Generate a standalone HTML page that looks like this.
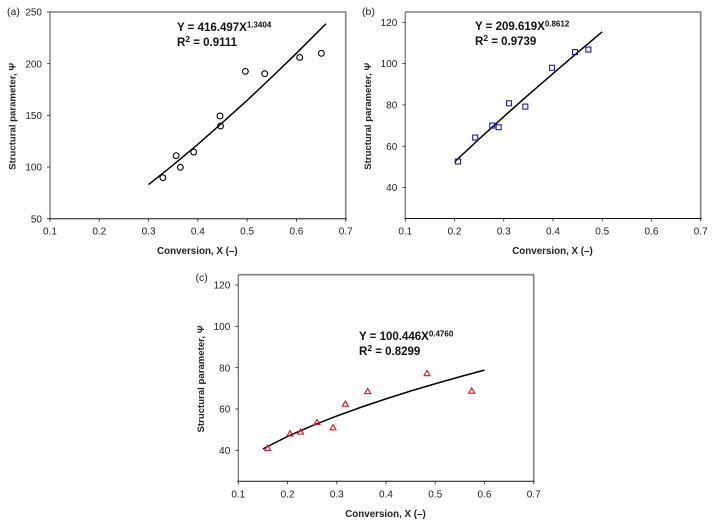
<!DOCTYPE html>
<html>
<head>
<meta charset="utf-8">
<style>
html,body{margin:0;padding:0;background:#fff;width:713px;height:527px;overflow:hidden}
svg{display:block;font-family:"Liberation Sans",Arial,sans-serif}
</style>
</head>
<body>
<svg id="figure" width="713" height="527" viewBox="0 0 713 527" xmlns="http://www.w3.org/2000/svg"></svg>
<script>
const xTickLabels = [0.1, 0.2, 0.3, 0.4, 0.5, 0.6, 0.7];

const yTicksA = [50, 100, 150, 200, 250];
const pointsXA = [0.329, 0.356, 0.3645, 0.3915, 0.445, 0.446, 0.4964, 0.5356, 0.6066, 0.6506];
const pointsYA = [89.7, 111, 99.7, 114.5, 149.4, 139.7, 192.6, 190.3, 206, 210];
const fitXA = [0.3, 0.35, 0.4, 0.45, 0.5, 0.55, 0.6, 0.66];
const fitYA = [83, 102, 122, 143, 164.5, 187, 210, 238.6];

const yTicksB = [40, 60, 80, 100, 120];
const pointsXB = [0.207, 0.242, 0.2767, 0.2896, 0.3106, 0.3438, 0.398, 0.4447, 0.4718];
const pointsYB = [52.6, 64.2, 70, 69.2, 80.8, 79.2, 98, 105.6, 106.8];
const fitXB = [0.2, 0.25, 0.3, 0.35, 0.4, 0.45, 0.5];
const fitYB = [52.4, 63.5, 74.3, 84.9, 95.2, 105.4, 115.4];

const yTicksC = [40, 60, 80, 100, 120];
const pointsXC = [0.1596, 0.205, 0.2266, 0.2598, 0.2923, 0.3174, 0.3628, 0.4833, 0.574];
const pointsYC = [41, 48, 48.9, 53.5, 51, 62.4, 68.5, 77.2, 68.7];
const fitXC = [0.15, 0.2, 0.25, 0.3, 0.35, 0.4, 0.45, 0.5, 0.55, 0.6];
const fitYC = [40.7, 46.7, 51.9, 56.6, 60.9, 64.9, 68.7, 72.2, 75.6, 78.8];

const SVG_NS = 'http://www.w3.org/2000/svg';
const root = document.getElementById('figure');

function mk(parent, tag, attrs, name, text) {
  const el = document.createElementNS(SVG_NS, tag);
  for (const k in attrs) el.setAttribute(k, attrs[k]);
  
  
  if (text !== undefined) el.textContent = text;
  parent.appendChild(el);
  return el;
}

function drawPanel(cfg) {
  const g = mk(root, 'g', {}, 'panel-' + cfg.id);
  const L = cfg.left, R = cfg.right, T = cfg.top, B = cfg.bottom;
  const sx = v => L + (v - 0.1) / 0.6 * (R - L);
  const sy = v => B - (v - cfg.yMin) / (cfg.yMax - cfg.yMin) * (B - T);

  mk(g, 'text', {x: cfg.tagX, y: cfg.tagY, 'font-size': 10.5, fill: '#222'}, 'panel-label-' + cfg.id, '(' + cfg.id + ')');

  mk(g, 'path', {d: `M${L} ${T}H${R}V${B}`, fill: 'none', stroke: '#808080', 'stroke-width': 1.6}, 'plot-frame-grey');
  mk(g, 'line', {x1: L, y1: T, x2: L, y2: B, stroke: '#777', 'stroke-width': 1.3}, 'y-axis-line');
  mk(g, 'line', {x1: L - 1, y1: B, x2: R + 1, y2: B, stroke: '#111', 'stroke-width': 1}, 'x-axis-line');

  xTickLabels.forEach(v => {
    mk(g, 'line', {x1: sx(v), y1: B, x2: sx(v), y2: B + 3, stroke: '#222', 'stroke-width': 0.8}, 'x-tick');
    mk(g, 'text', {x: sx(v), y: B + 16, 'font-size': 10, fill: '#222', 'text-anchor': 'middle'}, 'x-tick-label', v.toFixed(1));
  });
  cfg.yTicks.forEach(v => {
    mk(g, 'line', {x1: L - 3, y1: sy(v), x2: L, y2: sy(v), stroke: '#222', 'stroke-width': 0.8}, 'y-tick');
    mk(g, 'text', {x: L - 8, y: sy(v) + 3.6, 'font-size': 10, fill: '#222', 'text-anchor': 'end'}, 'y-tick-label', String(v));
  });

  mk(g, 'text', {x: (L + R) / 2 - 0.5, y: B + 35.5, 'font-size': 9.8, 'font-weight': 'bold', fill: '#222', 'text-anchor': 'middle'}, 'x-axis-title', 'Conversion, X (\u2013)');
  mk(g, 'text', {transform: `translate(${L - 34.5} ${(T + B) / 2 + 1}) rotate(-90)`, 'font-size': 9.6, 'font-weight': 'bold', fill: '#222', 'text-anchor': 'middle'}, 'y-axis-title', 'Structural parameter, \u03A8');

  const fit = cfg.fitX.map((x, i) => sx(x).toFixed(2) + ',' + sy(cfg.fitY[i]).toFixed(2)).join(' ');
  mk(g, 'polyline', {points: fit, fill: 'none', stroke: '#000', 'stroke-width': 1.5}, 'power-fit-line');

  cfg.pointsX.forEach((x, i) => {
    const px = sx(x), py = sy(cfg.pointsY[i]);
    if (cfg.marker === 'circle') {
      mk(g, 'circle', {cx: px, cy: py, r: 2.9, fill: 'none', stroke: '#000', 'stroke-width': 1.1}, 'data-point');
    } else if (cfg.marker === 'square') {
      mk(g, 'rect', {x: px - 2.5, y: py - 2.5, width: 5, height: 5, fill: 'none', stroke: '#1a1ab0', 'stroke-width': 1.1}, 'data-point');
    } else {
      mk(g, 'polygon', {points: `${px},${py - 3} ${px + 3},${py + 2.2} ${px - 3},${py + 2.2}`, fill: 'none', stroke: '#d8141e', 'stroke-width': 1.1}, 'data-point');
    }
  });

  const eq = mk(g, 'text', {x: cfg.eqX, y: cfg.eqY, 'font-size': 11.5, 'font-weight': 'bold', fill: '#111'}, 'fit-equation');
  mk(eq, 'tspan', {}, 'fit-equation-base', cfg.eqBase);
  mk(eq, 'tspan', {'font-size': 8, dy: -3.5, 'font-weight': 'bold'}, 'fit-equation-exponent', cfg.eqExp);
  const r2 = mk(g, 'text', {x: cfg.eqX, y: cfg.eqY + 15, 'font-size': 11.5, 'font-weight': 'bold', fill: '#111'}, 'r-squared');
  mk(r2, 'tspan', {}, 'r-squared-symbol', 'R');
  mk(r2, 'tspan', {'font-size': 8.5, dy: -4}, 'r-squared-power', '\u0032');
  mk(r2, 'tspan', {dy: 4}, 'r-squared-value', ' = ' + cfg.r2);
}

drawPanel({id: 'a', left: 50, right: 345.7, top: 12, bottom: 218.7, yMin: 50, yMax: 250,
  yTicks: yTicksA, pointsX: pointsXA, pointsY: pointsYA, fitX: fitXA, fitY: fitYA, marker: 'circle',
  tagX: 7, tagY: 15, eqX: 177, eqY: 31, eqBase: 'Y = 416.497X', eqExp: '1.3404', r2: '0.9111'});
drawPanel({id: 'b', left: 405.3, right: 700.7, top: 12, bottom: 218.5, yMin: 25, yMax: 125,
  yTicks: yTicksB, pointsX: pointsXB, pointsY: pointsYB, fitX: fitXB, fitY: fitYB, marker: 'square',
  tagX: 362, tagY: 15, eqX: 475, eqY: 30, eqBase: 'Y = 209.619X', eqExp: '0.8612', r2: '0.9739'});
drawPanel({id: 'c', left: 238.3, right: 533.7, top: 274.7, bottom: 481.3, yMin: 25, yMax: 125,
  yTicks: yTicksC, pointsX: pointsXC, pointsY: pointsYC, fitX: fitXC, fitY: fitYC, marker: 'triangle',
  tagX: 195.5, tagY: 281, eqX: 359, eqY: 340, eqBase: 'Y = 100.446X', eqExp: '0.4760', r2: '0.8299'});
</script>
</body>
</html>
